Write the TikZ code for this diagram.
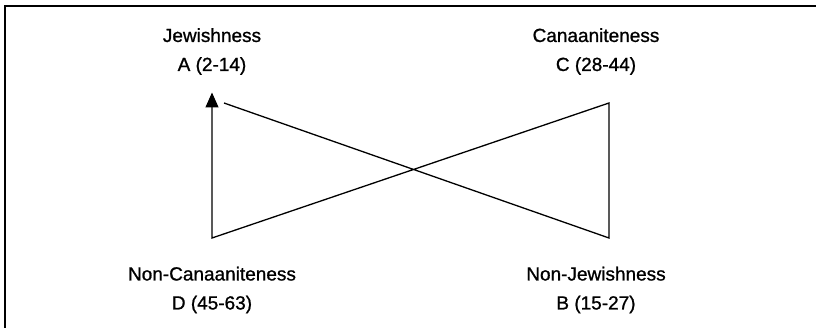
\documentclass[tikz,border=0pt]{standalone}
\usepackage{fontspec}
\setmainfont{Liberation Sans}
\newfontfamily\medfont{Liberation Sans}[FakeBold=1.0]
\usetikzlibrary{arrows.meta}
\begin{document}
\begin{tikzpicture}[x=1pt,y=-1pt,
  lbl/.style={anchor=north, inner sep=0pt, align=center, font=\medfont\fontsize{19}{29}\selectfont},
  edge/.style={line width=1.3pt, line join=miter},
  frame/.style={line width=2pt}]
\useasboundingbox (0,0) rectangle (816,328);
\draw[frame] (5,328) -- (5,6) -- (816,6);
\node[lbl] (A) at (212,28) {Jewishness\\A (2-14)};
\node[lbl] (C) at (596,28) {Canaaniteness\\C (28-44)};
\node[lbl] (D) at (212,266.5) {Non-Canaaniteness\\D (45-63)};
\node[lbl] (B) at (596,266.5) {Non-Jewishness\\B (15-27)};
\coordinate (a) at (212,92.5);
\coordinate (a2) at (224,103);
\coordinate (b) at (609,238);
\coordinate (c) at (609,103);
\coordinate (d) at (212,238);
\draw[edge, -{Triangle[length=15pt,width=13pt]}] (a2) -- (b) -- (c) -- (d) -- (a);
\end{tikzpicture}
\end{document}
